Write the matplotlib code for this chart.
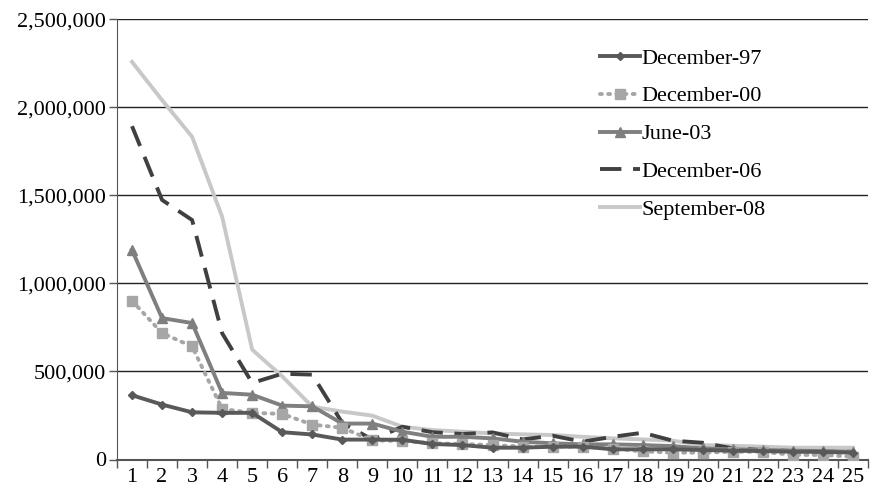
import matplotlib
matplotlib.use("Agg")
import matplotlib.pyplot as plt
from matplotlib.ticker import FuncFormatter, MultipleLocator, FixedLocator
import numpy as np

# rank of the entity (1..25)
ranks = list(range(1, 26))

# values
dec_97 = [365000, 312000, 268000, 265000, 265000, 155000, 142000, 113000, 113000, 112000,
          88000, 82000, 67000, 67000, 73000, 73000, 58000, 58000, 58000, 54000,
          50000, 48000, 44000, 43000, 39000]
dec_00 = [901000, 718000, 642000, 287000, 265000, 259000, 198000, 180000, 109000, 105000,
          92000, 88000, 82000, 73000, 73000, 73000, 62000, 46000, 39000, 39000,
          44000, 44000, 26000, 26000, 16000]
jun_03 = [1190000, 803000, 775000, 378000, 368000, 306000, 302000, 204000, 204000, 158000,
          129000, 129000, 120000, 101000, 92000, 86000, 86000, 82000, 76000, 63000,
          58000, 54000, 50000, 48000, 44000]
dec_06 = [1893000, 1474000, 1360000, 717000, 435000, 487000, 482000, 208000, 113000, 186000,
          155000, 145000, 154000, 114000, 135000, 101000, 129000, 152000, 107000, 95000,
          63000, 54000, 48000, 44000, 44000]
sep_08 = [2258000, 2041000, 1833000, 1379000, 624000, 472000, 300000, 272000, 249000, 186000,
          167000, 158000, 148000, 143000, 139000, 129000, 120000, 114000, 107000, 82000,
          78000, 73000, 67000, 67000, 67000]

labels = ["December-97", "December-00", "June-03", "December-06", "September-08"]

plt.rcParams['font.family'] = ['Liberation Serif', 'DejaVu Serif']

fig = plt.figure(figsize=(8.73, 4.93), dpi=100)
ax = fig.add_axes([117 / 873, 1 - 459.5 / 493, 751 / 873, 440.2 / 493])

x = np.array(ranks)
ax.plot(x, dec_97, color='#595959', lw=2.8, marker='D', ms=4.5, label=labels[0], zorder=5)
ax.plot(x, dec_00, color='#a6a6a6', lw=2.8, ls=(0, (0.5, 1.6)), dash_capstyle='round',
        marker='s', ms=6.5, label=labels[1], zorder=4)
ax.plot(x, jun_03, color='#7f7f7f', lw=2.8, marker='^', ms=6.5, label=labels[2], zorder=3)
ax.plot(x, dec_06, color='#404040', lw=2.8, ls=(0, (5.5, 3)), label=labels[3], zorder=2)
ax.plot(x, sep_08, color='#c8c8c8', lw=2.8, label=labels[4], zorder=1)

ax.set_xlim(0.5, 25.5)
ax.set_ylim(0, 2500000)
ax.yaxis.set_major_locator(MultipleLocator(500000))
ax.yaxis.set_major_formatter(FuncFormatter(lambda v, p: f"{int(v):,}"))
ax.grid(axis='y', color='#222222', lw=1)
ax.set_axisbelow(True)

ax.set_xticks(ranks)
ax.xaxis.set_minor_locator(FixedLocator(np.arange(0.5, 26, 1)))
ax.tick_params(axis='x', which='major', length=0, labelsize=16, pad=6)
ax.tick_params(axis='x', which='minor', length=6, width=1, color='#555555', direction='out')
ax.tick_params(axis='y', length=6, width=1, color='#555555', labelsize=16, pad=2)

for s in ['top', 'right']:
    ax.spines[s].set_visible(False)
ax.spines['left'].set_color('#555555')
ax.spines['bottom'].set_color('#555555')
ax.spines['bottom'].set_linewidth(1.5)

leg = ax.legend(loc='upper left', bbox_to_anchor=(600 / 873, 1 - 48 / 493),
                bbox_transform=fig.transFigure, frameon=False, fontsize=16,
                handlelength=1.8, handletextpad=0.05, labelspacing=0.78,
                borderaxespad=0, borderpad=0)

fig.savefig('out.png', dpi=100)
